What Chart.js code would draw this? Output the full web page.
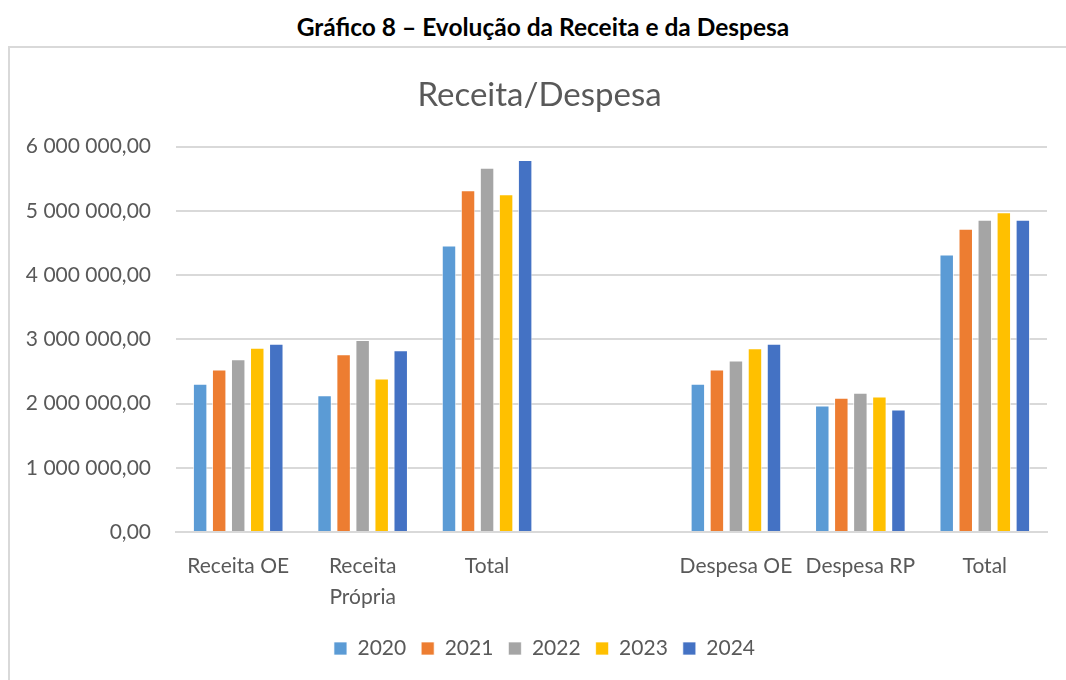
<!DOCTYPE html>
<html>
<head>
<meta charset="utf-8">
<script src="https://cdn.jsdelivr.net/npm/chart.js@4"></script>
<style>
  body { margin: 0; background: #fff; width: 1066px; height: 680px; overflow: hidden; position: relative; }
  #heading { position: absolute; left: 0; top: 12px; width: 1086px; text-align: center;
    font: bold 24.5px Lato, sans-serif; color: #000; }
  #box { position: absolute; left: 8px; top: 46px; width: 1080px; height: 660px;
    border: 2px solid #d9d9d9; box-sizing: border-box; }
  #wrap { position: absolute; left: 0; top: 0; width: 1066px; height: 680px; }
</style>
</head>
<body>
<div id="heading">Gráfico 8 – Evolução da Receita e da Despesa</div>
<div id="box"></div>
<div id="wrap"><canvas id="chart"></canvas></div>
<script>
const CATEGORIES = ['Receita OE', ['Receita', 'Própria'], 'Total', '', 'Despesa OE', 'Despesa RP', 'Total'];
const YEARS = ['2020', '2021', '2022', '2023', '2024'];
const COLORS = ['#5B9BD5', '#ED7D31', '#A5A5A5', '#FFC000', '#4472C4'];

// values per year, one per category (the blank gap has none)
const V2020 = [2310000, 2130000, 4460000, null, 2310000, 1970000, 4320000];
const V2021 = [2530000, 2770000, 5320000, null, 2530000, 2090000, 4720000];
const V2022 = [2690000, 2990000, 5670000, null, 2670000, 2170000, 4860000];
const V2023 = [2870000, 2390000, 5260000, null, 2860000, 2110000, 4980000];
const V2024 = [2930000, 2830000, 5790000, null, 2930000, 1910000, 4860000];
const SERIES = [V2020, V2021, V2022, V2023, V2024];

const TEXT = '#595959';
const GRID = '#d9d9d9';

function fmt(v) {
    return String(Math.round(v)).replace(/\B(?=(\d{3})+(?!\d))/g, ' ') + ',00';
}

// title and legend sit a bit right of the plot centre in the original
const shiftBlocks = {
    id: 'shiftBlocks',
    afterLayout(chart) {
        chart.legend.left += 17;
        chart.legend.right += 17;
        chart.titleBlock.left += 12;
        chart.titleBlock.right += 12;
    }
};

new Chart(document.getElementById('chart'), {
    type: 'bar',
    data: {
        labels: CATEGORIES,
        datasets: YEARS.map((y, i) => ({
            label: y,
            data: SERIES[i],
            backgroundColor: COLORS[i],
            borderColor: 'rgba(255,255,255,0.7)',
            borderWidth: 1,
            categoryPercentage: 0.765,
            barPercentage: 0.76
        }))
    },
    plugins: [shiftBlocks],
    options: {
        responsive: true,
        maintainAspectRatio: false,
        animation: false,
        layout: { padding: { top: 76, left: 8, right: 19, bottom: 11 } },
        plugins: {
            title: {
                display: true,
                text: 'Receita/Despesa',
                color: TEXT,
                font: { family: 'Lato', size: 33, weight: 'normal' },
                padding: { top: 0, bottom: 31 }
            },
            legend: {
                position: 'bottom',
                labels: {
                    color: TEXT,
                    font: { family: 'Lato', size: 21 },
                    boxWidth: 13,
                    boxHeight: 13,
                    padding: 15
                }
            },
            tooltip: { enabled: false }
        },
        scales: {
            x: {
                grid: { display: false },
                border: { color: GRID, width: 2 },
                ticks: {
                    color: TEXT,
                    font: { family: 'Lato', size: 21, lineHeight: 1.45 },
                    padding: 11,
                    maxRotation: 0,
                    autoSkip: false
                }
            },
            y: {
                min: 0,
                max: 6000000,
                afterFit: (scale) => { scale.width = 168; },
                grid: { color: GRID, lineWidth: 2, drawTicks: false },
                border: { display: false },
                ticks: {
                    stepSize: 1000000,
                    color: TEXT,
                    font: { family: 'Lato', size: 21 },
                    padding: 25,
                    callback: (v) => fmt(v)
                }
            }
        }
    }
});
</script>
</body>
</html>
